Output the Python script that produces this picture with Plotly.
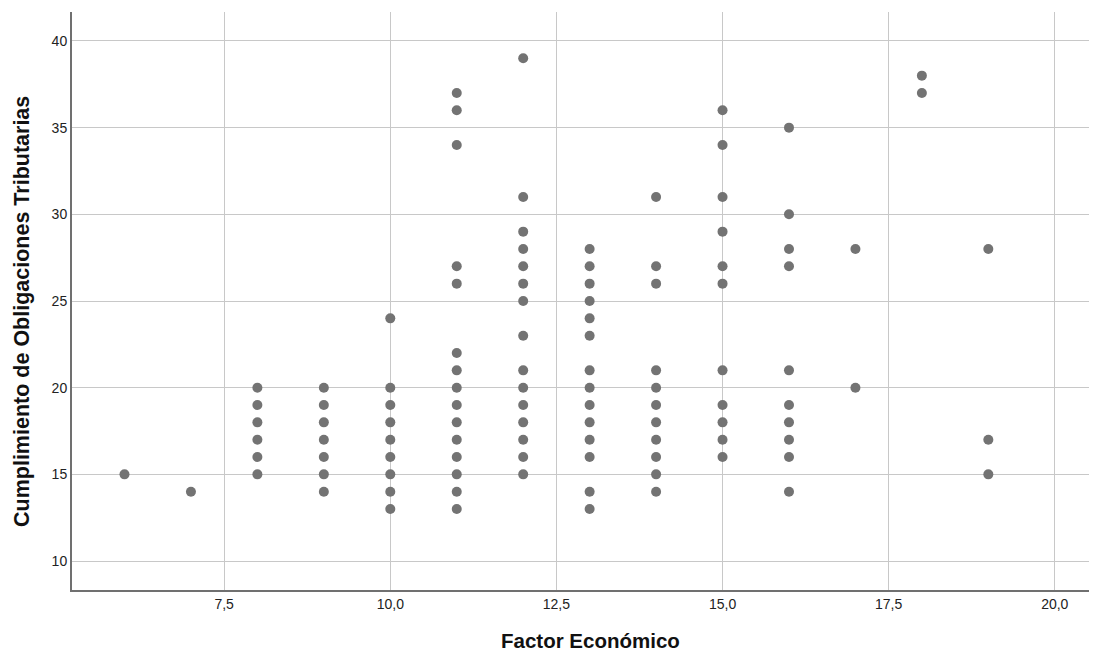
import plotly.graph_objects as go

factor_economico = (
    [6] + [7] + [8]*6 + [9]*7 + [10]*9 + [11]*15 + [12]*15 + [13]*14
    + [14]*11 + [15]*11 + [16]*10 + [17]*2 + [18]*2 + [19]*3
)
cumplimiento = (
    [15]
    + [14]
    + [15, 16, 17, 18, 19, 20]
    + [14, 15, 16, 17, 18, 19, 20]
    + [13, 14, 15, 16, 17, 18, 19, 20, 24]
    + [13, 14, 15, 16, 17, 18, 19, 20, 21, 22, 26, 27, 34, 36, 37]
    + [15, 16, 17, 18, 19, 20, 21, 23, 25, 26, 27, 28, 29, 31, 39]
    + [13, 14, 16, 17, 18, 19, 20, 21, 23, 24, 25, 26, 27, 28]
    + [14, 15, 16, 17, 18, 19, 20, 21, 26, 27, 31]
    + [16, 17, 18, 19, 21, 26, 27, 29, 31, 34, 36]
    + [14, 16, 17, 18, 19, 21, 27, 28, 30, 35]
    + [20, 28]
    + [37, 38]
    + [15, 17, 28]
)
x_ticks = [7.5, 10, 12.5, 15, 17.5, 20]
y_ticks = [10, 15, 20, 25, 30, 35, 40]
x_title = "Factor Económico"
y_title = "Cumplimiento de Obligaciones Tributarias"

fig = go.Figure(go.Scatter(
    x=factor_economico, y=cumplimiento, mode="markers",
    marker=dict(color="#737373", size=10, line=dict(width=0)),
    hoverinfo="x+y",
))

fig.update_layout(
    width=1097, height=652,
    margin=dict(l=64, r=15, t=4, b=70),
    plot_bgcolor="white", paper_bgcolor="white",
    separators=",.",
    showlegend=False,
    font=dict(family="Liberation Sans, Arial, sans-serif", color="#222222"),
    annotations=[
        dict(text="<b>" + x_title + "</b>", xref="paper", yref="paper",
             x=0.509, y=0, yshift=-50, xanchor="center", yanchor="middle",
             showarrow=False, borderpad=0, font=dict(size=20.5, color="#111111")),
        dict(text="<b>" + y_title + "</b>", xref="paper", yref="paper",
             x=0, y=0.481, xshift=-50, xanchor="center", yanchor="middle",
             textangle=-90, showarrow=False, font=dict(size=21.5, color="#111111")),
    ],
)
fig.update_xaxes(
    range=[5.21, 20.53], tickvals=x_ticks, tickformat=".1f",
    showgrid=True, gridcolor="#c8c8c8", gridwidth=1,
    showline=True, linecolor="#707070", linewidth=2,
    zeroline=False, ticks="", tickfont=dict(size=14),
)
fig.update_yaxes(
    range=[8.33, 41.67], tickvals=y_ticks,
    showgrid=True, gridcolor="#c8c8c8", gridwidth=1,
    showline=True, linecolor="#707070", linewidth=2,
    zeroline=False, ticks="", tickfont=dict(size=14),
)

fig.write_html("out.html")
